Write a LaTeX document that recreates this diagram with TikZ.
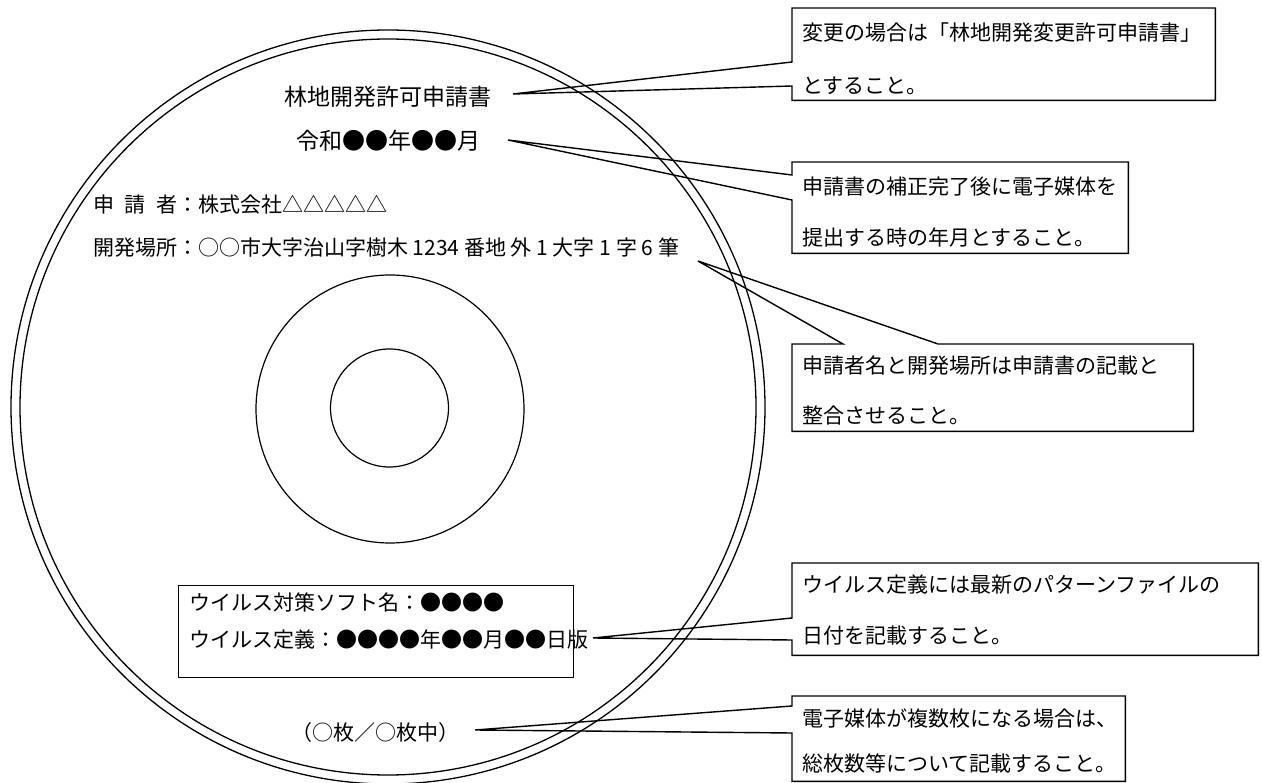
\documentclass[tikz,border=0pt]{standalone}
\usepackage{fontspec}
\setmainfont{Noto Sans CJK JP}
\usetikzlibrary{calc}
\begin{document}
\begin{tikzpicture}[x=1pt,y=-1pt,
  disc/.style={line width=1.3pt},
  hole/.style={line width=1.2pt},
  txt/.style={font=\fontsize{21}{21}\selectfont, inner sep=0pt},
  ttl/.style={font=\fontsize{23}{23}\selectfont, inner sep=0pt},
  cbox/.style={draw=none, inner sep=0pt, anchor=north west},
  callout/.style={draw, line width=1.4pt, line join=miter},
  cshadow/.style={draw, line width=1.4pt, line join=miter, xshift=0.7pt, yshift=-0.7pt},
  vbox/.style={draw, line width=0.9pt, inner sep=0pt, anchor=north west}]
\useasboundingbox (0,0) rectangle (1262,783);
% disc
\coordinate (c) at (388,407);
\draw[disc] (c) circle[radius=377pt];
\draw[disc] (c) circle[radius=368pt];
\draw[hole] (390,409) circle[radius=134pt];
\draw[hole] (389.5,408) circle[radius=59pt];
% disc texts
\node[ttl, anchor=base] (title) at (388,106) {林地開発許可申請書};
\node[ttl, anchor=base] (date) at (388,150) {令和●●年●●月};
\node[txt, anchor=base west] (appl) at (93,213) {申\hspace{0.5em}請\hspace{0.5em}者：株式会社△△△△△};
\node[txt, anchor=base west] (place) at (93,256) {開発場所：○○市大字治山字樹木 1234 番地 外 1 大字 1 字 6 筆};
\node[vbox, minimum width=395pt, minimum height=92pt] (vb) at (178,585) {};
\node[txt, anchor=base west] (v1) at (189,610) {ウイルス対策ソフト名：●●●●};
\node[txt, anchor=base west] (v2) at (189,647) {ウイルス定義：●●●●年●●月●●日版};
\node[txt, anchor=base] (cnt) at (375,740) {（○枚／○枚中）};
% callout boxes
\node[cbox, minimum width=423pt, minimum height=92pt] (b1) at (792,8) {};
\node[cbox, minimum width=336pt, minimum height=91pt] (b2) at (792,162) {};
\node[cbox, minimum width=401pt, minimum height=87pt] (b3) at (792,344) {};
\node[cbox, minimum width=466pt, minimum height=92pt] (b4) at (792,563) {};
\node[cbox, minimum width=333pt, minimum height=85pt] (b5) at (792,696) {};
% callout texts
\node[txt, anchor=base west] (t1a) at (802,41) {変更の場合は「林地開発変更許可申請書」};
\node[txt, anchor=base west] (t1b) at (802,94) {とすること。};
\node[txt, anchor=base west] (t2a) at (802,195) {申請書の補正完了後に電子媒体を};
\node[txt, anchor=base west] (t2b) at (802,246) {提出する時の年月とすること。};
\node[txt, anchor=base west] (t3a) at (802,374) {申請者名と開発場所は申請書の記載と};
\node[txt, anchor=base west] (t3b) at (802,424) {整合させること。};
\node[txt, anchor=base west] (t4a) at (802,592) {ウイルス定義には最新のパターンファイルの};
\node[txt, anchor=base west] (t4b) at (802,643) {日付を記載すること。};
\node[txt, anchor=base west] (t5a) at (802,726) {電子媒体が複数枚になる場合は、};
\node[txt, anchor=base west] (t5b) at (802,771) {総枚数等について記載すること。};
% pointer tips
\coordinate (p1) at (513,94);
\coordinate (p2) at (508,140);
\coordinate (p3) at (698,261);
\coordinate (p4) at (593,638);
\coordinate (p5) at (475,730);
% callout outlines
\draw[callout] (b1.north west) -- (b1.north east) -- (b1.south east) -- (b1.south west)
  -- ($(b1.north west)+(0,78)$) -- (p1) -- ($(b1.north west)+(0,54)$) -- cycle;
\draw[callout] (b2.north west) -- (b2.north east) -- (b2.south east) -- (b2.south west)
  -- ($(b2.north west)+(0,38)$) -- (p2) -- ($(b2.north west)+(0,13)$) -- cycle;
\draw[callout] (b3.north west) -- ($(b3.north west)+(51,0)$) -- (p3) -- ($(b3.north west)+(146,0)$)
  -- (b3.north east) -- (b3.south east) -- (b3.south west) -- cycle;
\draw[callout] (b4.north west) -- (b4.north east) -- (b4.south east) -- (b4.south west)
  -- ($(b4.north west)+(0,77)$) -- (p4) -- ($(b4.north west)+(0,55)$) -- cycle;
\draw[callout] (b5.north west) -- (b5.north east) -- (b5.south east) -- (b5.south west)
  -- ($(b5.north west)+(0,37)$) -- (p5) -- ($(b5.north west)+(0,10)$) -- cycle;
% thicker right and bottom edges
\foreach \b in {b1,b2,b3,b4,b5}
  \draw[cshadow] (\b.north east) -- (\b.south east) -- (\b.south west);
\end{tikzpicture}
\end{document}
